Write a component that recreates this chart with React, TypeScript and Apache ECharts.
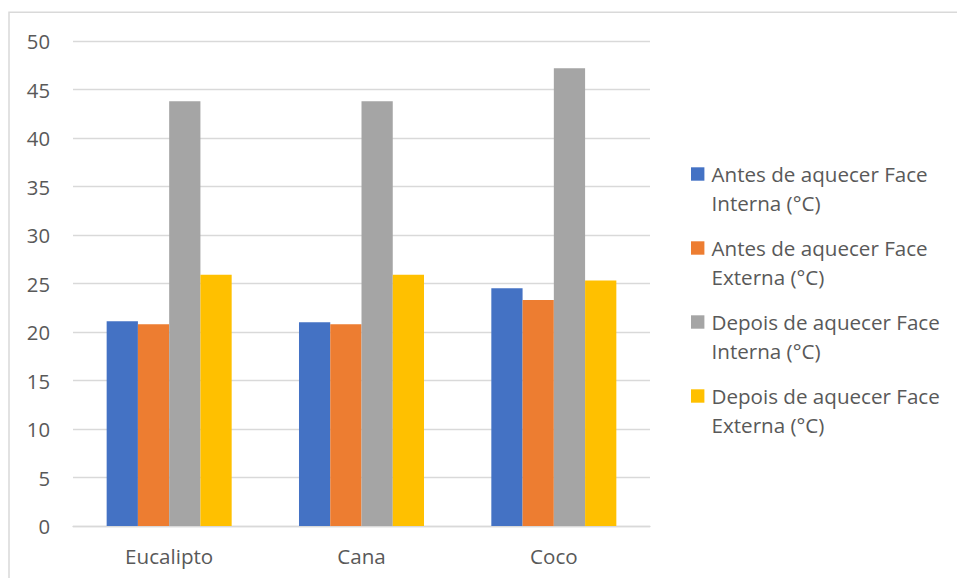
import React, { useEffect, useRef } from "react";
import * as echarts from "echarts";

// Sample types (x categories)
const categories = ["Eucalipto", "Cana", "Coco"];

// Series names and their temperatures (°C)
const seriesNames = [
  "Antes de aquecer Face Interna (°C)",
  "Antes de aquecer Face Externa (°C)",
  "Depois de aquecer Face Interna (°C)",
  "Depois de aquecer Face Externa (°C)",
];
const antesInterna = [21.1, 21.0, 24.5];
const antesExterna = [20.8, 20.8, 23.3];
const depoisInterna = [43.8, 43.8, 47.2];
const depoisExterna = [25.9, 25.9, 25.3];
const seriesValues = [antesInterna, antesExterna, depoisInterna, depoisExterna];

const colors = ["#4472C4", "#ED7D31", "#A5A5A5", "#FFC000"];

// Value axis range
const yMin = 0;
const yMax = 50;
const yStep = 5;

const FONT = "'Open Sans', sans-serif";
const TEXT_COLOR = "#595959";
const LINE_COLOR = "#D9D9D9";

export default function App() {
  const ref = useRef<HTMLDivElement>(null);

  useEffect(() => {
    if (!ref.current) return;
    const chart = echarts.init(ref.current, undefined, { renderer: "svg" });

    // Legend drawn as graphic entries: square swatch aligned with the first text line
    const legendX = 691;
    const legendY0 = 174;
    const legendStep = 74;
    const lineH = 29.5;
    const legendItems = seriesNames.map((name, i) => ({
      type: "group",
      children: [
        {
          type: "rect",
          shape: { x: legendX, y: legendY0 + i * legendStep - 6.7, width: 13.4, height: 13.4 },
          style: { fill: colors[i] },
        },
        {
          type: "text",
          x: legendX + 20.5,
          y: legendY0 + i * legendStep - lineH / 2 - 0.5,
          style: {
            text: name.replace(" Face ", " Face\n"),
            fill: TEXT_COLOR,
            font: `20.6px ${FONT}`,
            lineHeight: lineH,
            verticalAlign: "top",
            align: "left",
          },
        },
      ],
    }));

    chart.setOption({
      animation: false,
      backgroundColor: "#FFFFFF",
      grid: { left: 73, right: 307, top: 41, bottom: 52, containLabel: false },
      xAxis: {
        type: "category",
        data: categories,
        axisTick: { show: false },
        axisLine: { lineStyle: { color: LINE_COLOR, width: 1.3 } },
        axisLabel: { color: TEXT_COLOR, fontSize: 20.6, fontFamily: FONT, margin: 19 },
      },
      yAxis: {
        type: "value",
        min: yMin,
        max: yMax,
        interval: yStep,
        axisLine: { show: false },
        axisTick: { show: false },
        axisLabel: { color: TEXT_COLOR, fontSize: 20.3, fontFamily: FONT, margin: 23 },
        splitLine: { lineStyle: { color: LINE_COLOR, width: 1.3 } },
      },
      series: seriesNames.map((name, i) => ({
        name,
        type: "bar",
        data: seriesValues[i],
        itemStyle: { color: colors[i] },
        barGap: "0%",
        barCategoryGap: "35%",
      })),
      graphic: [
        {
          type: "rect",
          silent: true,
          shape: { x: 9, y: 12.3, width: 1200, height: 1000 },
          style: { fill: "none", stroke: LINE_COLOR, lineWidth: 1.5 },
        },
        ...legendItems,
      ],
    });

    return () => chart.dispose();
  }, []);

  return (
    <div
      ref={ref}
      style={{ position: "absolute", left: 0, top: 0, width: 957, height: 578 }}
    />
  );
}
